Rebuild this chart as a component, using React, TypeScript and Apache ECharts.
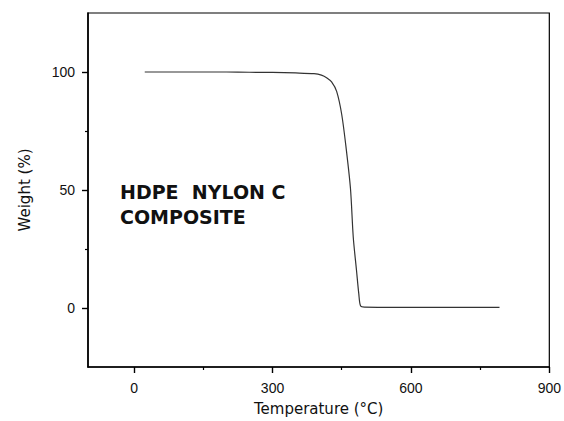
import React, { useEffect, useRef } from "react";
import * as echarts from "echarts";

const temperatures = [23, 60, 100, 150, 200, 250, 300, 350, 390, 406, 418, 428, 439, 450, 460, 469, 475, 482, 487, 491, 500, 600, 700, 792];
const weights = [100, 100, 100, 100, 100, 99.9, 99.8, 99.6, 99.3, 98.7, 97.5, 95.8, 91.8, 82, 67, 50.5, 30, 16, 6, 0.8, 0.4, 0.3, 0.3, 0.3];

const xMajorTicks = [0, 300, 600, 900];
const xMinorTicks = [150, 450, 750];
const yMajorTicks = [0, 50, 100];
const yMinorTicks = [25, 75];

const annotation = "HDPE  NYLON C\nCOMPOSITE";

export default function App() {
  const ref = useRef<HTMLDivElement>(null);
  useEffect(() => {
    if (!ref.current) return;
    const chart = echarts.init(ref.current, null, { renderer: "svg" });
    const data = temperatures.map((t, i) => [t, weights[i]]);
    const axisLine = { show: true, onZero: false, lineStyle: { color: "#000", width: 1.6 } };
    const labelStyle = { color: "#111", fontSize: 14, fontFamily: "Liberation Sans, Arial, sans-serif" };
    chart.setOption({
      animation: false,
      backgroundColor: "#fff",
      grid: { left: 88, right: 12, top: 13, bottom: 54, show: true, borderColor: "#000", borderWidth: 1.2, containLabel: false },
      xAxis: [
        {
          type: "value", min: -100, max: 900, position: "bottom",
          axisLine,
          splitLine: { show: false },
          axisTick: { show: true, inside: false, length: 6, customValues: xMajorTicks, lineStyle: { color: "#000", width: 1.4 } },
          axisLabel: { ...labelStyle, margin: 14, customValues: xMajorTicks },
          name: "Temperature (°C)",
          nameLocation: "middle",
          nameGap: 34,
          nameTextStyle: { color: "#111", fontSize: 15, fontFamily: "DejaVu Sans, sans-serif" },
        },
        {
          type: "value", min: -100, max: 900, position: "bottom",
          axisLine: { show: false, onZero: false },
          splitLine: { show: false },
          axisTick: { show: true, inside: false, length: 3, customValues: xMinorTicks, lineStyle: { color: "#000", width: 1.2 } },
          axisLabel: { show: false },
        },
      ],
      yAxis: [
        {
          type: "value", min: -25, max: 125, position: "left",
          axisLine,
          splitLine: { show: false },
          axisTick: { show: true, inside: false, length: 6, customValues: yMajorTicks, lineStyle: { color: "#000", width: 1.4 } },
          axisLabel: { ...labelStyle, margin: 13, customValues: yMajorTicks },
          name: "Weight (%)",
          nameLocation: "middle",
          nameGap: 56,
          nameTextStyle: { color: "#111", fontSize: 15, fontFamily: "DejaVu Sans, sans-serif" },
        },
        {
          type: "value", min: -25, max: 125, position: "left",
          axisLine: { show: false, onZero: false },
          splitLine: { show: false },
          axisTick: { show: true, inside: false, length: 3, customValues: yMinorTicks, lineStyle: { color: "#000", width: 1.2 } },
          axisLabel: { show: false },
        },
      ],
      graphic: [
        {
          type: "text",
          left: 120,
          top: 179,
          style: {
            text: annotation,
            fill: "#111",
            font: "bold 19px 'DejaVu Sans', sans-serif",
            lineHeight: 25,
          },
        },
      ],
      series: [
        {
          type: "line",
          data,
          xAxisIndex: 0,
          yAxisIndex: 0,
          showSymbol: false,
          smooth: 0.3,
          lineStyle: { color: "#333", width: 1.2 },
        },
      ],
    });
    return () => chart.dispose();
  }, []);
  return <div ref={ref} style={{ width: 564, height: 421, position: "absolute", left: 0, top: 0 }} />;
}
